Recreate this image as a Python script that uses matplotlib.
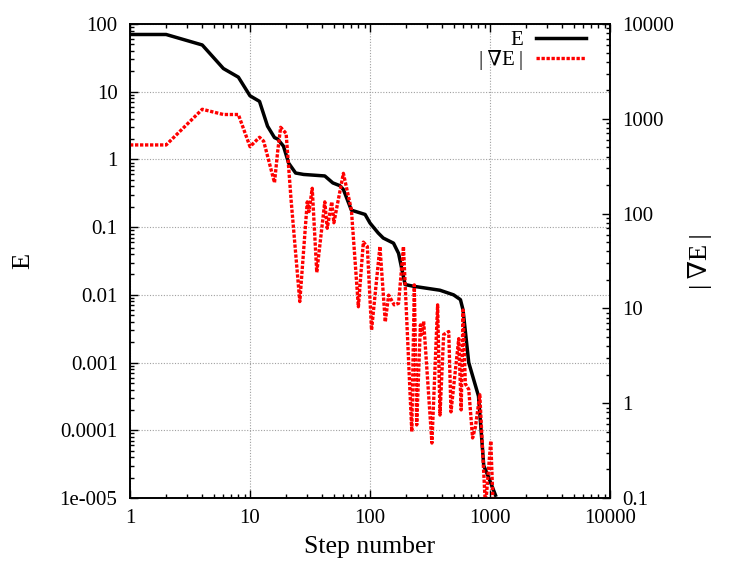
import matplotlib
matplotlib.use("Agg")
import matplotlib.pyplot as plt
from matplotlib.ticker import LogLocator, NullFormatter, FixedFormatter, FixedLocator

plt.rcParams['font.family'] = ['Liberation Serif', 'DejaVu Serif']

# Energy E vs step number
steps_E = [1, 2, 4, 6, 8, 10, 12, 14, 16, 17, 19, 21, 24, 28, 42, 49, 56, 60,
           70, 91, 100, 117, 129, 157, 173, 196, 230, 383, 497, 567, 596,
           665, 802, 887, 965, 1111]
E_vals = [70, 70, 49, 22, 16.4, 8.7, 7.2, 3.1, 2.1, 2.0, 1.57, 0.88, 0.63, 0.6,
          0.57, 0.45, 0.41, 0.36, 0.178, 0.154, 0.115, 0.082, 0.069, 0.058,
          0.041, 0.0142, 0.0134, 0.0117, 0.0100, 0.0085, 0.006, 0.001,
          3.2e-4, 3.0e-5, 2.1e-5, 1.1e-5]

# Gradient norm |grad E| vs step number
steps_G = [1, 2, 4, 6, 8, 10, 12, 13, 16, 17, 18, 20, 22, 26, 30, 31, 33, 36,
           42, 44, 48, 50, 60, 70, 80, 88, 95, 103, 121, 134, 143, 159, 173,
           190, 223, 234, 245, 263, 269, 280, 328, 366, 383, 411, 453, 473,
           549, 575, 596, 623, 665, 716, 756, 822, 917, 1015, 1063]
G_vals = [530, 530, 1260, 1110, 1110, 508, 638, 580, 212, 450, 813, 700, 139,
          11.8, 133, 105, 185, 24, 133, 70, 133, 80, 266, 109, 10.4, 50, 45,
          5.9, 45, 7.2, 13.8, 10.9, 11.3, 45, 0.5, 17.7, 0.59, 6.7, 5.3, 7.3,
          0.38, 10.9, 0.75, 5.3, 5.7, 0.81, 4.8, 0.85, 9.6, 1.6, 1.4, 0.43,
          0.56, 1.23, 0.08, 0.4, 0.08]

xticks = [1, 10, 100, 1000, 10000]
xtick_labels = ["1", "10", "100", "1000", "10000"]
yticks_left = [1e-5, 1e-4, 1e-3, 1e-2, 1e-1, 1, 10, 100]
ylabels_left = ["1e-005", "0.0001", "0.001", "0.01", "0.1", "1", "10", "100"]
yticks_right = [0.1, 1, 10, 100, 1000, 10000]
ylabels_right = ["0.1", "1", "10", "100", "1000", "10000"]

fig = plt.figure(figsize=(7.47, 5.61), dpi=100)
ax = fig.add_axes([130/747, 1-498/561, 480/747, 474/561])
ax2 = ax.twinx()

ax.set_xscale('log')
ax.set_yscale('log')
ax2.set_yscale('log')
ax.set_xlim(1, 10000)
ax.set_ylim(1e-5, 100)
ax2.set_ylim(0.1, 10000)

lE, = ax.plot(steps_E, E_vals, color='black', lw=2.5, label='E', zorder=3)
lG, = ax2.plot(steps_G, G_vals, color='#ff0000', lw=2.4,
               linestyle=(0, (1.0, 0.5)), label='|∇E|', zorder=2)

tfs = 15
ax.xaxis.set_major_locator(FixedLocator(xticks))
ax.xaxis.set_major_formatter(FixedFormatter(xtick_labels))
ax.xaxis.set_minor_locator(LogLocator(base=10, subs=range(2, 10), numticks=20))
ax.xaxis.set_minor_formatter(NullFormatter())
ax.yaxis.set_major_locator(FixedLocator(yticks_left))
ax.yaxis.set_major_formatter(FixedFormatter(ylabels_left))
ax.yaxis.set_minor_locator(LogLocator(base=10, subs=range(2, 10), numticks=20))
ax.yaxis.set_minor_formatter(NullFormatter())
ax2.yaxis.set_major_locator(FixedLocator(yticks_right))
ax2.yaxis.set_major_formatter(FixedFormatter(ylabels_right))
ax2.yaxis.set_minor_locator(LogLocator(base=10, subs=range(2, 10), numticks=20))
ax2.yaxis.set_minor_formatter(NullFormatter())

ax.tick_params(axis='x', which='both', direction='in', top=True, bottom=True,
               labelsize=tfs, pad=8)
ax.tick_params(axis='y', which='both', direction='in', left=True, right=False,
               labelsize=tfs, pad=9)
ax2.tick_params(axis='y', which='both', direction='in', right=True, left=False,
                labelsize=tfs, pad=9)
for a in (ax, ax2):
    a.tick_params(which='major', length=6, width=1)
    a.tick_params(which='minor', length=3, width=1)
    for s in a.spines.values():
        s.set_linewidth(1.2)

ax.grid(True, which='major', color='#a0a0a0', linestyle=(0, (1, 1.5)), lw=0.8)
ax.set_axisbelow(True)

ax.set_xlabel('Step number', fontsize=18.5, labelpad=6)
ax.set_ylabel('E', fontsize=19, labelpad=18)
ax2.set_ylabel('|\u2009∇E\u2009|', fontsize=19, labelpad=10)

leg = ax2.legend([lE, lG], ['E', '|\u2009∇E\u2009|'], loc='upper right',
                 bbox_to_anchor=(0.989, 1.026), frameon=False, fontsize=15,
                 markerfirst=False, handlelength=2.4, handletextpad=0.6,
                 labelspacing=0.0)
for col in leg._legend_handle_box.get_children():
    col.align = 'right'

fig.savefig('out.png', dpi=100)
